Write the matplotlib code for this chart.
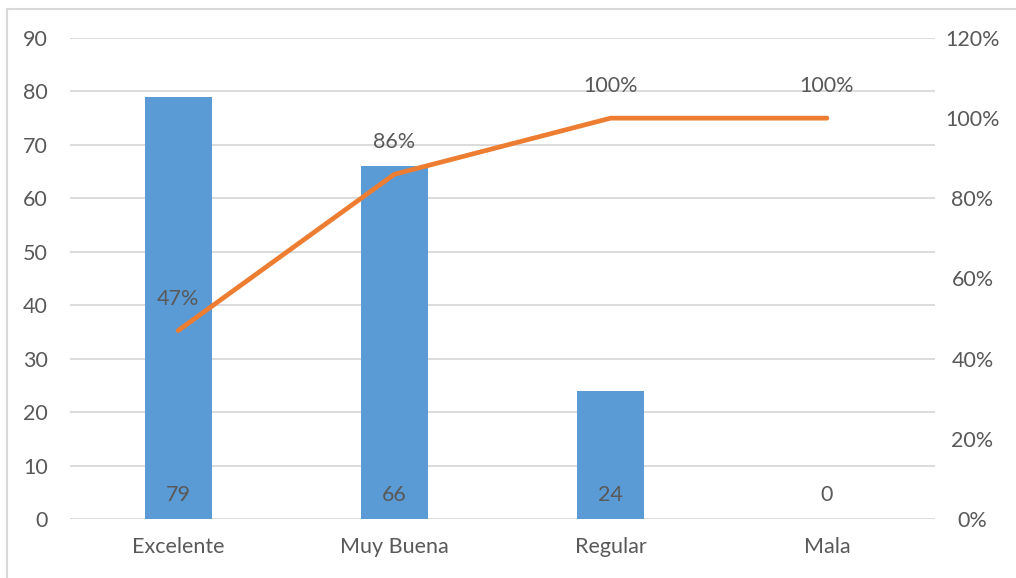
import matplotlib.pyplot as plt
from matplotlib.patches import Rectangle
from matplotlib.ticker import PercentFormatter

categorias = ['Excelente', 'Muy Buena', 'Regular', 'Mala']
frecuencia = [79, 66, 24, 0]
acumulado = [0.47, 0.86, 1.00, 1.00]

AZUL = '#5b9bd5'
NARANJA = '#ed7d31'
GRIS_TXT = '#595959'
GRIS_LIN = '#d9d9d9'

plt.rcParams['font.family'] = ['Lato', 'DejaVu Sans']
plt.rcParams['font.size'] = 15.5

fig = plt.figure(figsize=(10.16, 5.78), dpi=100)
ax = fig.add_axes([0.0689, 0.1021, 0.8514, 0.8322])

# chart frame
fig.patches.append(Rectangle((0.0069, -0.1), 1.2, 0.9844 + 0.1,
                             transform=fig.transFigure, fill=False,
                             edgecolor=GRIS_LIN, linewidth=1.5))

x = range(len(categorias))
ax.bar(x, frecuencia, width=0.31, color=AZUL, zorder=2)
ax.set_xlim(-0.5, len(categorias) - 0.5)
ax.set_ylim(0, 90)
ax.set_yticks(range(0, 91, 10))
ax.grid(axis='y', color=GRIS_LIN, linewidth=1.3, zorder=0)
ax.set_xticks(list(x))
ax.set_xticklabels(categorias)
ax.tick_params(axis='x', length=0, pad=13, colors=GRIS_TXT)
ax.tick_params(axis='y', length=0, pad=16, colors=GRIS_TXT)
for s in ax.spines.values():
    s.set_visible(False)

for i, v in enumerate(frecuencia):
    ax.annotate(str(v), xy=(i, 0), xytext=(0, 17), textcoords='offset points',
                ha='center', va='center', color=GRIS_TXT, zorder=4)

ax2 = ax.twinx()
ax2.plot(list(x), acumulado, color=NARANJA, linewidth=3.4, solid_capstyle='round',
         solid_joinstyle='round', zorder=3)
ax2.set_ylim(0, 1.2)
ax2.set_yticks([0, 0.2, 0.4, 0.6, 0.8, 1.0, 1.2])
ax2.yaxis.set_major_formatter(PercentFormatter(1.0, decimals=0))
ax2.tick_params(axis='y', length=0, pad=27, colors=GRIS_TXT)
for lbl in ax2.get_yticklabels():
    lbl.set_horizontalalignment('center')
for s in ax2.spines.values():
    s.set_visible(False)

for i, v in enumerate(acumulado):
    ax2.annotate(f'{v:.0%}', xy=(i, v), xytext=(0, 23), textcoords='offset points',
                 ha='center', va='center', color=GRIS_TXT)

fig.savefig('out.png', dpi=100)
